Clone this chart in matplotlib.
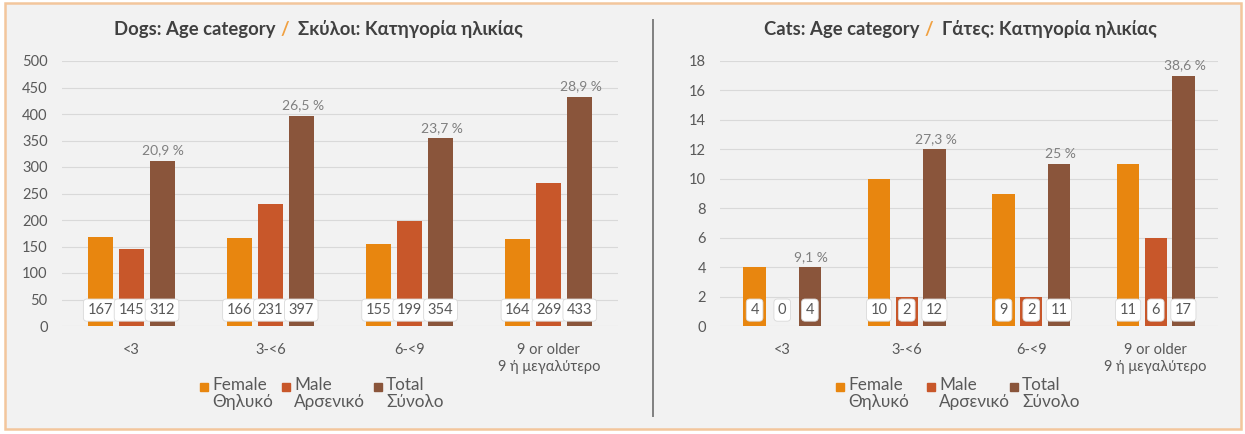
import numpy as np
import matplotlib
matplotlib.use('Agg')
import matplotlib.pyplot as plt
from matplotlib.patches import Rectangle
from matplotlib.lines import Line2D
import matplotlib.transforms as mtransforms

plt.rcParams['font.family'] = ['Lato', 'Noto Sans', 'DejaVu Sans']

categories = ['<3', '3-<6', '6-<9', '9 or older\n9 ή μεγαλύτερο']

dogs_female = [167, 166, 155, 164]
dogs_male = [145, 231, 199, 269]
dogs_total = [312, 397, 354, 433]
dogs_pct = ['20,9 %', '26,5 %', '23,7 %', '28,9 %']

cats_female = [4, 10, 9, 11]
cats_male = [0, 2, 2, 6]
cats_total = [4, 12, 11, 17]
cats_pct = ['9,1 %', '27,3 %', '25 %', '38,6 %']

series_names = ['Female\nΘηλυκό', 'Male\nΑρσενικό', 'Total\nΣύνολο']
colors = ['#E8860F', '#C8572A', '#8A553B']

W, H = 1245, 434
BG = '#F2F2F2'
TXT = '#595959'

fig = plt.figure(figsize=(W / 100, H / 100), dpi=100, facecolor='white')


def fx(x):
    return x / W


def fy(y):
    return 1 - y / H


# outer frame
fig.patches.append(Rectangle((fx(5), fy(429)), fx(1241) - fx(5), fy(3) - fy(429),
                             transform=fig.transFigure, facecolor=BG,
                             edgecolor='#F3C69C', linewidth=1.8, zorder=-5))
# separator
fig.add_artist(Line2D([fx(653), fx(653)], [fy(20), fy(416)], color='#808080', lw=1.4))


def draw_panel(rect, female, male, total, pct, ymax, ystep):
    ax = fig.add_axes(rect)
    ax.set_facecolor('none')
    ax.set_zorder(2)
    x = np.arange(len(categories))
    w = 0.18
    off = 0.222
    groups = [female, male, total]
    for k, vals in enumerate(groups):
        ax.bar(x + (k - 1) * off, vals, width=w, color=colors[k], zorder=2)
    ax.set_xlim(-0.5, len(categories) - 0.5)
    ax.set_ylim(0, ymax)
    ax.set_yticks(np.arange(0, ymax + ystep / 2, ystep))
    ax.yaxis.grid(True, color='#D9D9D9', lw=0.8, zorder=0)
    ax.set_axisbelow(True)
    for s in ax.spines.values():
        s.set_visible(False)
    ax.set_xticks(x)
    ax.set_xticklabels(categories, linespacing=1.3)
    ax.tick_params(axis='both', length=0, colors=TXT, labelsize=10.5)
    ax.tick_params(axis='y', pad=10)
    ax.tick_params(axis='x', pad=12)
    trans = mtransforms.blended_transform_factory(ax.transData, ax.transAxes)
    for k, vals in enumerate(groups):
        for i, v in enumerate(vals):
            ax.text(x[i] + (k - 1) * off, 0.06, str(v), transform=trans,
                    ha='center', va='center', fontsize=10.5, color=TXT, zorder=5,
                    bbox=dict(boxstyle='round,pad=0.28,rounding_size=0.25',
                              fc='white', ec='#D9D9D9', lw=0.6))
    for i, v in enumerate(total):
        ax.annotate(pct[i], (x[i] + off, v), xytext=(1, 3), textcoords='offset points',
                    ha='center', va='bottom', fontsize=10, color='#7F7F7F')
    return ax


draw_panel([fx(61.5), fy(326), fx(618.5) - fx(61.5), fy(61) - fy(326)],
           dogs_female, dogs_male, dogs_total, dogs_pct, 500, 50)
draw_panel([fx(720), fy(326), fx(1218) - fx(720), fy(61) - fy(326)],
           cats_female, cats_male, cats_total, cats_pct, 18, 2)


def title(slash_x, left, right):
    kw = dict(fontsize=13.3, fontweight='bold', color='#404040', va='center')
    fig.text(fx(slash_x - 10), fy(29), left, ha='right', **kw)
    fig.text(fx(slash_x), fy(29), '/', ha='center', fontsize=13.3, fontweight='bold',
             color='#F0A040', va='center')
    fig.text(fx(slash_x + 13), fy(29), right, ha='left', **kw)


title(285, 'Dogs: Age category', 'Σκύλοι: Κατηγορία ηλικίας')
title(929, 'Cats: Age category', 'Γάτες: Κατηγορία ηλικίας')


def legend(xs):
    for k, sx in enumerate(xs):
        fig.patches.append(Rectangle((fx(sx), fy(391)), 8 / W, 8 / H,
                                     transform=fig.transFigure, color=colors[k]))
        fig.text(fx(sx + 12), fy(377), series_names[k], ha='left', va='top',
                 fontsize=12.3, color=TXT, linespacing=1.05)


legend([200, 282, 374])
legend([836, 927, 1010])

fig.savefig('out.png', dpi=100, facecolor='white')
